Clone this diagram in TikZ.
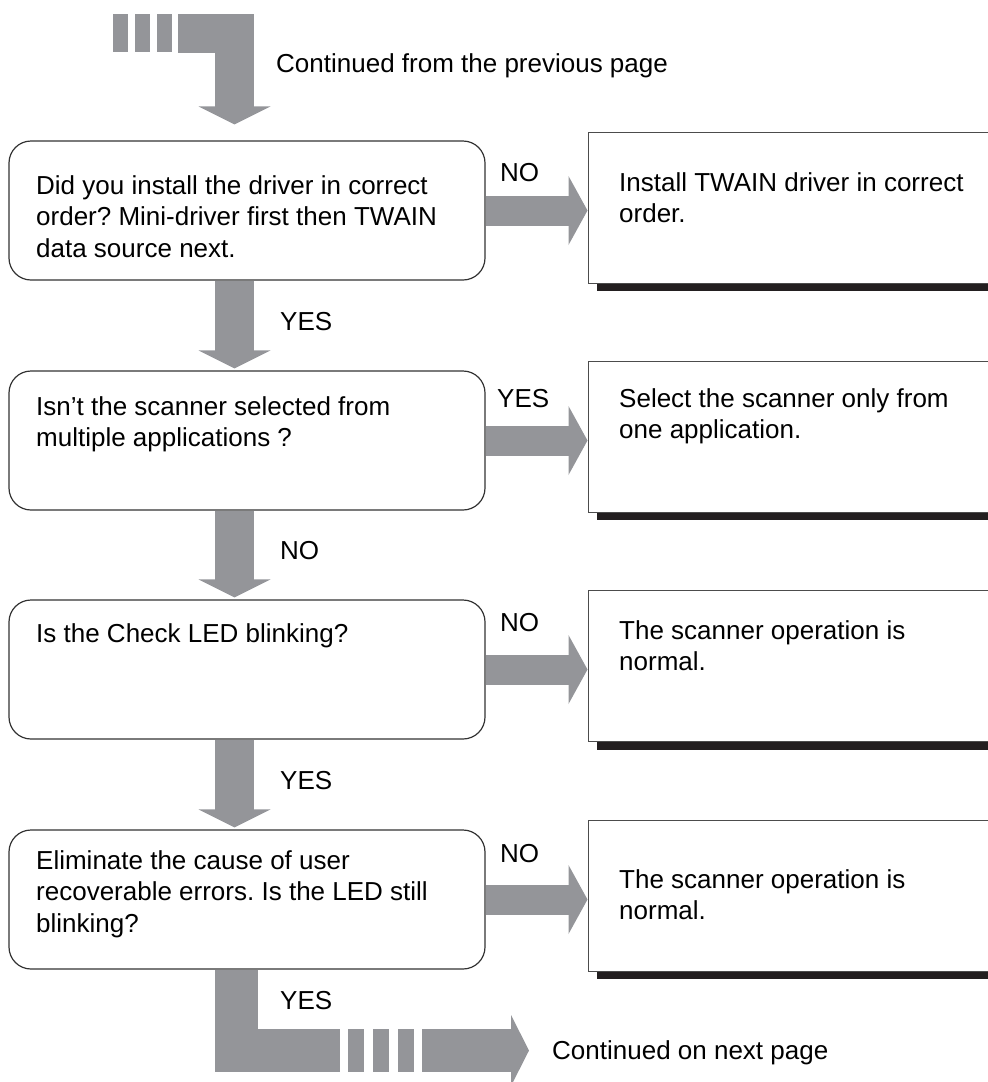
\documentclass[tikz,border=0pt]{standalone}
\usepackage{fontspec}
\setmainfont{Liberation Sans}
\usepackage{xcolor}
\usetikzlibrary{positioning,arrows.meta,calc}
\definecolor{flowgray}{RGB}{148,149,153}
\definecolor{shadowc}{RGB}{35,31,32}
\frenchspacing

\begin{document}
\begin{tikzpicture}[
  x=1pt, y=-1pt,
  every node/.style={font=\fontsize{26}{31.5}\selectfont, inner sep=0pt},
  qbox/.style={draw=black!80, line width=1.2pt, rounded corners=22pt, minimum width=476pt, minimum height=139pt},
  abox/.style={draw=black!70, line width=1pt, fill=white, minimum width=422pt, minimum height=151pt},
  txt/.style={anchor=north west, align=left},
  lbl/.style={anchor=base west},
  vflow/.style={draw=flowgray, line width=39pt, shorten >=#1, -{Triangle[width=72pt, length=18pt, line width=0pt]},
    postaction={draw=flowgray, line width=39pt, -, shorten >=#1+16pt}},
  vflow/.default=2pt,
  hflow/.style={draw=flowgray, line width=30pt, -{Triangle[width=69pt, length=19pt, line width=0pt]},
    postaction={draw=flowgray, line width=30pt, -, shorten >=17pt}},
  bar/.style={fill=flowgray}
]
  \useasboundingbox (0,0) rectangle (988,1082);
  \clip (0,0) rectangle (988,1082);

  % questions
  \node[qbox] (q1) at (247,210.5) {};
  \node[qbox] (q2) at (247,440.5) {};
  \node[qbox] (q3) at (247,669.5) {};
  \node[qbox] (q4) at (247,899.5) {};
  \node[txt] (t1) at (36,175) {Did you install the driver in correct\\order? Mini-driver first then TWAIN\\data source next.};
  \node[txt] (t2) at (36,396) {Isn’t the scanner selected from\\multiple applications ?};
  \node[txt] (t3) at (36,623) {Is the Check LED blinking?};
  \node[txt] (t4) at (36,850) {Eliminate the cause of user\\recoverable errors. Is the LED still\\blinking?};

  % answers, with their shadows
  \foreach \n/\y in {a1/207.5, a2/436.5, a3/666, a4/895.5} {
    \fill[shadowc] (597,\y+75.5) rectangle (1010,\y+83.5);
    \node[abox] (\n) at (799,\y) {};
  }
  \node[txt] (r1) at (619,172) {Install TWAIN driver in correct\\order.};
  \node[txt] (r2) at (619,388) {Select the scanner only from\\one application.};
  \node[txt] (r3) at (619,620) {The scanner operation is\\normal.};
  \node[txt] (r4) at (619,869) {The scanner operation is\\normal.};

  % flow down
  \coordinate (vx) at (234.5,0);
  \draw[vflow] (q1.south -| vx) -- (q2.north -| vx);
  \draw[vflow] (q2.south -| vx) -- (q3.north -| vx);
  \draw[vflow] (q3.south -| vx) -- (q4.north -| vx);
  \node[lbl] (y1) at (280,330) {YES};
  \node[lbl] (n2) at (280,559) {NO};
  \node[lbl] (y3) at (280,789) {YES};
  \node[lbl] (y4) at (280,1009) {YES};

  % flow right
  \draw[hflow] (q1.east) -- (q1.east -| a1.west);
  \draw[hflow] (q2.east) -- (q2.east -| a2.west);
  \draw[hflow] (q3.east) -- (q3.east -| a3.west);
  \draw[hflow] (q4.east) -- (q4.east -| a4.west);
  \node[lbl] (n1) at (500,181) {NO};
  \node[lbl] (y2) at (497,407) {YES};
  \node[lbl] (n3) at (500,631) {NO};
  \node[lbl] (n4) at (500,862) {NO};

  % from previous page
  \foreach \x in {113,135,157} \fill[bar] (\x,14) rectangle ++(15,38);
  \coordinate (prev) at (178,33);
  \draw[vflow=16pt, line width=38pt] (prev) -| (q1.north -| vx);
  \node[lbl] (cprev) at (276,72) {Continued from the previous page};

  % to next page
  \coordinate (bx) at (236.5,0);
  \coordinate (brk) at (340,1050.5);
  \coordinate (nextpg) at (529,1050.5);
  \draw[flowgray, line width=43pt] (q4.south -| bx) |- (brk);
  \foreach \x in {348,373,398} \fill[bar] (\x,1029) rectangle ++(16,43);
  \draw[flowgray, line width=43pt, -{Triangle[width=71pt, length=18pt, line width=0pt]},
    postaction={draw=flowgray, line width=43pt, -, shorten >=16pt}] (422,1050.5) -- (nextpg);
  \node[lbl] (cnext) at (552,1059) {Continued on next page};
\end{tikzpicture}
\end{document}
